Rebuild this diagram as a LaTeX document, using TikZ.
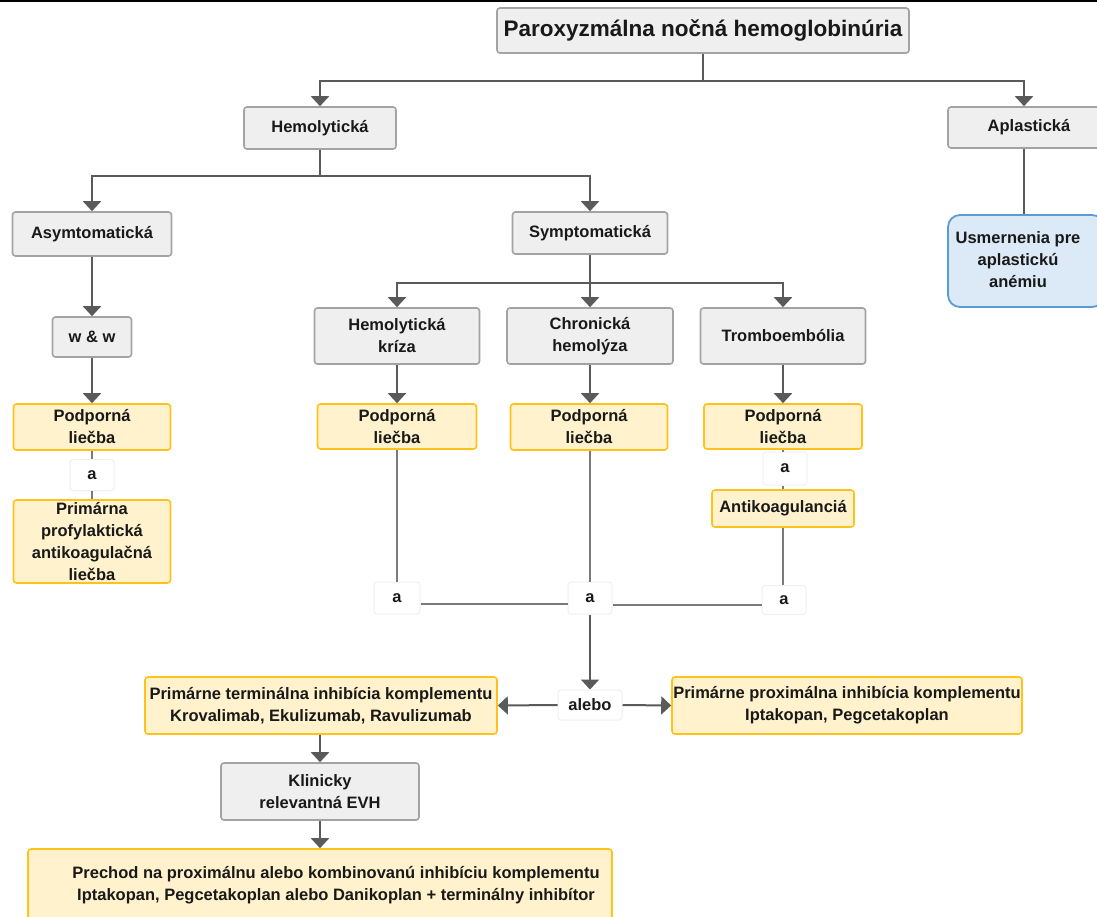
\documentclass[tikz,border=0pt]{standalone}
\usepackage{fontspec}
\setmainfont{Liberation Sans}
\usetikzlibrary{arrows.meta,calc}
\definecolor{lineC}{HTML}{5A5A5A}
\definecolor{lineL}{HTML}{7A7A7A}
\definecolor{greyF}{HTML}{EFEFEF}
\definecolor{greyD}{HTML}{A3A3A3}
\definecolor{yelF}{HTML}{FFF2CC}
\definecolor{yelD}{HTML}{FFC21A}
\definecolor{bluF}{HTML}{DCE9F7}
\definecolor{bluD}{HTML}{5B9BD5}
\definecolor{aD}{HTML}{F0F0F0}
\begin{document}
\begin{tikzpicture}[x=1pt,y=-1pt,
 every node/.style={font=\bfseries\fontsize{16.5}{22}\selectfont, align=center, inner sep=0pt, text=black!90},
 gbox/.style={draw=greyD, fill=greyF, line width=1.6pt, rounded corners=3pt},
 ybox/.style={draw=yelD, fill=yelF, line width=1.6pt, rounded corners=3pt},
 bbox/.style={draw=bluD, fill=bluF, line width=1.8pt, rounded corners=12pt},
 abox/.style={draw=aD, fill=white, line width=1pt, rounded corners=3pt},
 conn/.style={draw=lineC, line width=2pt},
 lconn/.style={draw=lineL, line width=1.6pt},
 arr/.style={conn, -{Triangle[width=18pt,length=10pt]}},
]
\useasboundingbox (0,0) rectangle (1097,916);
\clip (0,0) rectangle (1097,916);
\fill[white] (0,0) rectangle (1097,916);
\draw[black, line width=2pt] (0,1) -- (1097,1);

% nodes
\node[gbox, minimum width=412, minimum height=45, font=\bfseries\fontsize{22.5}{26}\selectfont] (title) at (703,30.5) {Paroxyzmálna nočná hemoglobinúria};
\node[gbox, minimum width=152, minimum height=42] (hem) at (320,128) {Hemolytická};
\node[gbox, minimum width=152, minimum height=41] (apl) at (1024,127.5) {\hspace*{10pt}Aplastická};
\node[bbox, minimum width=156, minimum height=92] (usm) at (1026,261) {\hspace*{-16pt}\begin{tabular}{@{}c@{}}Usmernenia pre\\aplastickú\\anémiu\end{tabular}};
\node[gbox, minimum width=159, minimum height=44] (asym) at (92,234) {Asymtomatická};
\node[gbox, minimum width=155, minimum height=42] (sym) at (590,233) {Symptomatická};
\node[gbox, minimum width=79, minimum height=40] (ww) at (92,337) {w \& w};
\node[ybox, minimum width=157, minimum height=46] (pod1) at (92,427) {Podporná\\liečba};
\node[abox, minimum width=44, minimum height=31] (a1) at (92,475) {a};
\node[ybox, minimum width=157, minimum height=83] (prim) at (92,541.5) {Primárna\\profylaktická\\antikoagulačná\\liečba};
\node[gbox, minimum width=165, minimum height=56] (hk) at (397,336) {Hemolytická\\kríza};
\node[gbox, minimum width=166, minimum height=56] (ch) at (590,336) {Chronická\\hemolýza};
\node[gbox, minimum width=165, minimum height=56] (tr) at (783,336) {Tromboembólia};
\node[ybox, minimum width=159, minimum height=45] (pod2) at (397,426.5) {Podporná\\liečba};
\node[ybox, minimum width=157, minimum height=46] (pod3) at (589,427) {Podporná\\liečba};
\node[ybox, minimum width=158, minimum height=45] (pod4) at (783,426.5) {Podporná\\liečba};
\node[abox, minimum width=44, minimum height=33] (a4) at (785,468.5) {a};
\node[ybox, minimum width=142, minimum height=37] (anti) at (783,508.5) {Antikoagulanciá};
\node[abox, minimum width=46, minimum height=32] (aL) at (397,598) {a};
\node[abox, minimum width=44, minimum height=32] (aM) at (590,598) {a};
\node[abox, minimum width=44, minimum height=29] (aR) at (784,600) {a};
\node[abox, minimum width=64, minimum height=30] (alebo) at (590,705) {alebo};
\node[ybox, minimum width=352, minimum height=57] (term) at (321,705.5) {Primárne terminálna inhibícia komplementu\\Krovalimab, Ekulizumab, Ravulizumab};
\node[ybox, minimum width=350, minimum height=57] (prox) at (847,705.5) {Primárne proximálna inhibícia komplementu\\Iptakopan, Pegcetakoplan};
\node[gbox, minimum width=198, minimum height=57] (klin) at (320,791.5) {Klinicky\\relevantná EVH};
\node[ybox, minimum width=584, minimum height=82] (prech) at (320,890) {};
\node (prechT) at (336,885) {Prechod na proximálnu alebo kombinovanú inhibíciu komplementu\\Iptakopan, Pegcetakoplan alebo Danikoplan + terminálny inhibítor};

% connectors
\coordinate (b1) at ($(title.south)+(0,27)$);
\draw[conn] (title.south) -- (b1);
\draw[arr] (b1) -| (hem.north);
\draw[arr] (b1) -| (apl.north);
\draw[conn] (apl.south) -- (apl.south |- usm.north);

\coordinate (b2) at ($(hem.south)+(0,26)$);
\draw[conn] (hem.south) -- (b2);
\draw[arr] (b2) -| (asym.north);
\draw[arr] (b2) -| (sym.north);

\draw[arr] (asym.south) -- (ww.north);
\draw[arr] (ww.south) -- (pod1.north);
\draw[lconn] (pod1.south) -- (a1.north);
\draw[lconn] (a1.south) -- (prim.north);

\coordinate (b3) at ($(sym.south)+(0,28)$);
\draw[conn] (sym.south) -- (b3);
\draw[arr] (b3) -| (hk.north);
\draw[arr] (b3) -| (tr.north);
\draw[arr] (b3) -- (ch.north);

\draw[arr] (hk.south) -- (hk.south |- pod2.north);
\draw[arr] (ch.south) -- (ch.south |- pod3.north);
\draw[arr] (tr.south) -- (tr.south |- pod4.north);

\draw[lconn] (pod4.south) -- (pod4.south |- a4.north);
\draw[lconn] (pod4.south |- a4.south) -- (anti.north);

\draw[lconn] (pod2.south) -- (pod2.south |- aL.north);
\draw[lconn] (pod3.south -| aM.north) -- (aM.north);
\draw[lconn] (anti.south) -- (anti.south |- aR.north);
\draw[lconn] ([yshift=-6pt]aL.east) -- ([yshift=-6pt]aL.east -| aM.west);
\draw[lconn] ([yshift=-7pt]aM.east) -- ([yshift=-7pt]aM.east -| aR.west);

\draw[arr] (aM.south) -- (alebo.north);
\draw[arr] (alebo.west) -- (term.east);
\draw[arr] (alebo.east) -- (prox.west);
\draw[arr] (term.south -| klin.north) -- (klin.north);
\draw[arr] (klin.south) -- (prech.north);
\end{tikzpicture}
\end{document}
